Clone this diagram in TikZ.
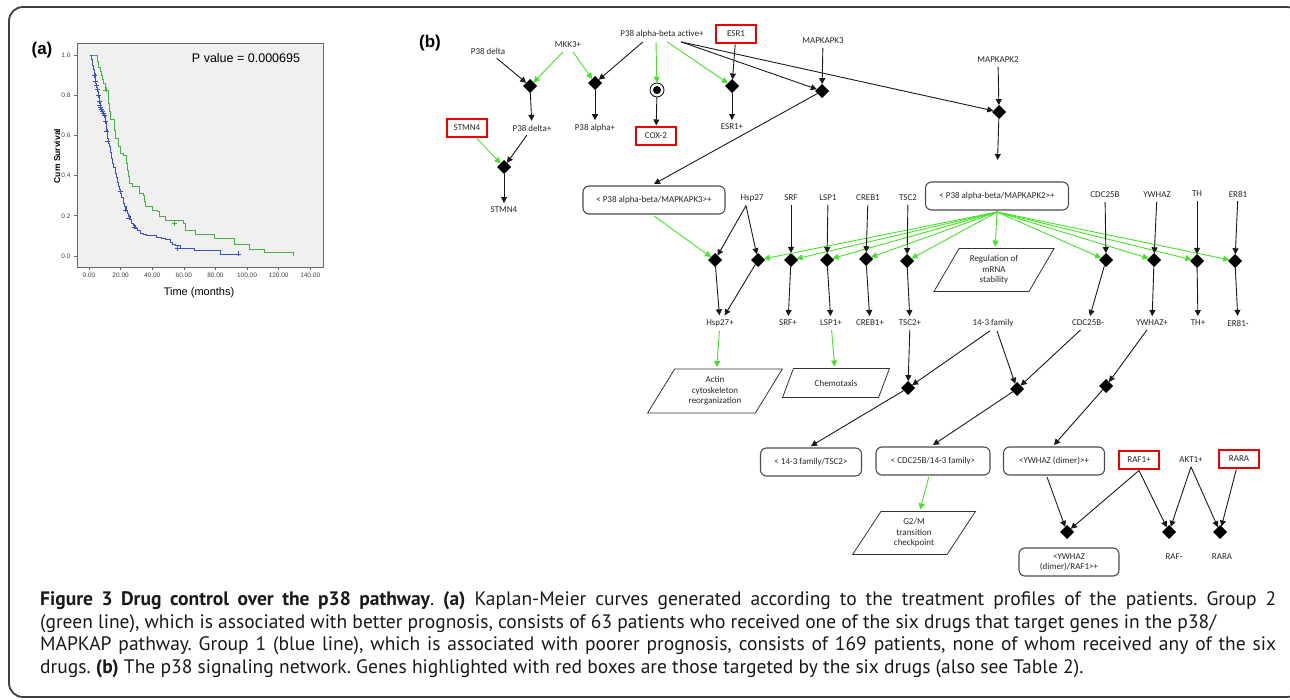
\documentclass[tikz,border=0pt]{standalone}
\usepackage{fontspec}
\setmainfont{PT Sans}
\newfontfamily\genfont{Carlito}
\newfontfamily\plotfont{Liberation Sans}
\usetikzlibrary{arrows.meta}
\usetikzlibrary{shapes.geometric}
\definecolor{pgreen}{RGB}{70,225,40}
\definecolor{kmgreen}{RGB}{70,175,70}
\definecolor{kmblue}{RGB}{60,80,195}
\definecolor{drugred}{RGB}{235,0,0}
\frenchspacing
\tikzset{
  gen/.style={font=\genfont\fontsize{9}{10.5}\selectfont, text=black!85, inner sep=2pt, outer sep=2pt},
  drug/.style={gen, draw=drugred, line width=2.4pt, minimum width=40pt, minimum height=18pt, outer sep=1.5pt},
  cplx/.style={gen, draw=black!70, line width=1.1pt, rounded corners=6pt, minimum height=28pt, align=center},
  proc/.style={gen, draw=black!80, line width=0.8pt, trapezium, trapezium left angle=60, trapezium right angle=120, trapezium stretches=true, align=center},
  knot/.style={diamond, fill=black, inner sep=0pt, minimum size=14pt, outer sep=0pt},
  pil/.style={-{Triangle[length=6pt,width=6pt]}, line width=0.9pt, black!90},
  gpil/.style={pil, pgreen},
  tick/.style={font=\plotfont\fontsize{6.5}{7}\selectfont, text=black!75},
}
\begin{document}
\begin{tikzpicture}[x=1pt,y=-1pt]
\useasboundingbox (0,0) rectangle (1290,700);
\draw [black!75, line width=1.8pt, rounded corners=14pt] (9,7) rectangle (1301,697);

% (a) Kaplan-Meier curves
\node [font=\plotfont\bfseries\fontsize{17}{20}\selectfont] (la) at (42,50) {(a)};
\draw [fill=black!6, draw=black!60, line width=0.8pt] (77,43) rectangle (323,267);
\node [font=\plotfont\fontsize{12.5}{14}\selectfont] (pval) at (246,58) {P value = 0.000695};
\node [font=\plotfont\fontsize{11}{13}\selectfont] (tlab) at (199,293) {Time (months)};
\node [font=\plotfont\bfseries\fontsize{8.5}{10}\selectfont, rotate=90] (ylab) at (57,156) {Cum Survival};
\begin{scope}[shift={(89,256)}, x=1.58pt, y=201pt]
  \foreach \v in {0.0,0.2,0.4,0.6,0.8,1.0} {
    \draw [black!60, line width=0.6pt] (-7.6,\v) -- ++(-3pt,0);
    \node [tick, anchor=east] at (-9.5,\v) {\v};
  }
  \foreach \t/\l in {0/0.00,20/20.00,40/40.00,60/60.00,80/80.00,100/100.00,120/120.00,140/140.00} {
    \draw [black!60, line width=0.6pt] (\t,-0.055) -- ++(0,-3pt);
    \node [tick, anchor=north] at (\t,-0.065) {\l};
  }
  \draw [kmgreen, line width=0.9pt] (0.6,1.0)
    \foreach \t/\s in {5.3/0.97,6.2/0.94,7.0/0.92,7.6/0.90,8.4/0.88,9.2/0.86,10.1/0.826,12.2/0.76,12.8/0.72,13.3/0.677,15.8/0.627,16.7/0.585,18.8/0.544,19.6/0.511,21.7/0.502,23.4/0.494,23.8/0.46,24.2/0.428,25.1/0.395,25.9/0.362,27.6/0.345,31.9/0.312,34.4/0.303,35.0/0.27,35.7/0.245,40.3/0.229,43.2/0.221,44.5/0.196,48.7/0.179,59.7/0.163,60.8/0.129,67.1/0.109,79.1/0.088,91.8/0.055,101.5/0.033,110.8/0.018,129.3/0.0} { -| (\t,\s) };
  \draw [kmblue, line width=0.9pt] (0.6,1.0)
    \foreach \t/\s in {1.5/0.98,2.2/0.95,2.7/0.93,3.3/0.91,3.8/0.89,4.3/0.86,4.9/0.84,5.4/0.82,5.9/0.80,6.4/0.77,7.0/0.75,7.5/0.735,8.0/0.726,8.8/0.71,9.5/0.70,10.2/0.67,10.8/0.65,11.2/0.62,11.6/0.585,12.3/0.56,12.9/0.544,13.6/0.515,14.3/0.486,15.0/0.46,15.7/0.44,16.5/0.411,17.2/0.39,17.9/0.365,18.6/0.345,19.3/0.33,20.0/0.312,20.8/0.29,21.7/0.262,22.5/0.245,23.4/0.229,24.1/0.21,24.9/0.196,26.0/0.18,27.0/0.163,28.0/0.15,29.1/0.138,30.7/0.125,32.3/0.113,34.5/0.105,36.5/0.10,42.8/0.093,46.0/0.087,48.1/0.08,51.3/0.068,53.0/0.058,54.4/0.05,57.6/0.038,66.5/0.027,83.3/0.01} { -| (\t,\s) } -- (94.5,0.01);
  \foreach \t/\s in {3.5/0.90,4.0/0.87,4.6/0.85,5.1/0.83,6.0/0.80,6.5/0.77,6.9/0.75,7.4/0.74,7.8/0.73,8.3/0.72,8.9/0.71,9.6/0.70,10.3/0.67,11.3/0.62,12.0/0.57,19.8/0.32,23.0/0.229,25.3/0.19,28.5/0.145,56.0/0.038,94.5/0.01}
    \draw [kmblue, line width=0.6pt] (\t,\s) +(-2.5pt,0) -- +(2.5pt,0) +(0,-2.5pt) -- +(0,2.5pt);
  \foreach \t/\s in {10.7/0.826,54.0/0.163}
    \draw [kmgreen, line width=0.6pt] (\t,\s) +(-2.5pt,0) -- +(2.5pt,0) +(0,-2.5pt) -- +(0,2.5pt);
\end{scope}

% (b) p38 network
\node [font=\plotfont\bfseries\fontsize{17}{20}\selectfont] (lb) at (430,43) {(b)};
\node [gen] (p38d) at (488,51) {P38 delta};
\node [gen] (mkk) at (568,45) {MKK3+};
\node [gen] (p38act) at (662,34) {P38 alpha-beta active+};
\node [drug] (esr) at (736,34) {ESR1};
\node [gen] (mk3) at (823,41) {MAPKAPK3};
\node [gen] (mk2) at (998,60) {MAPKAPK2};
\node [knot] (k1) at (530,86) {};
\node [knot] (k2) at (595,83) {};
\node [circle, draw, line width=0.8pt, minimum size=14pt, inner sep=0pt,
       path picture={\fill (path picture bounding box.center) circle (4pt);}] (cox) at (657,90) {};
\node [knot] (k3) at (732,86) {};
\node [knot] (k4) at (822,91) {};
\node [knot] (kmk2) at (999,112) {};
\node [drug] (stmn) at (467,128) {STMN4};
\node [gen] (p38dp) at (532,128) {P38 delta+};
\node [gen] (p38ap) at (595,128) {P38 alpha+};
\node [drug] (cox2) at (656,136) {COX-2};
\node [gen] (esrp) at (732,127) {ESR1+};
\node [knot] (kst) at (504,167) {};
\node [gen] (stmnp) at (504,210) {STMN4};
\node [cplx, minimum width=142pt] (cx3) at (654,200) {< P38 alpha-beta/MAPKAPK3>+};
\node [cplx, minimum width=143pt] (cx2) at (997,196) {< P38 alpha-beta/MAPKAPK2>+};
\node [gen] (hsp) at (752,198) {Hsp27};
\node [gen] (srf) at (791,198) {SRF};
\node [gen] (lsp) at (828,198) {LSP1};
\node [gen] (creb) at (868,198) {CREB1};
\node [gen] (tsc) at (908,198) {TSC2};
\node [gen] (cdc) at (1105,195) {CDC25B};
\node [gen] (ywh) at (1157,195) {YWHAZ};
\node [gen] (th) at (1197,194) {TH};
\node [gen] (er) at (1238,194) {ER81};
\foreach \n/\x/\y in {kha/715/260,khb/758/260,ksrf/791/260,klsp/827/260,kcreb/866/259,ktsc/907/261,kcdc/1106/260,kywh/1154/260,kth/1197/261,ker/1235/261}
  \node [knot] (\n) at (\x,\y) {};
\node [proc, minimum width=121pt, minimum height=43pt] (reg) at (994,270) {Regulation of\\mRNA\\stability};
\node [gen] (hspp) at (720,323) {Hsp27+};
\node [gen] (srfp) at (788,323) {SRF+};
\node [gen] (lspp) at (831,323) {LSP1+};
\node [gen] (crebp) at (870,323) {CREB1+};
\node [gen] (tscp) at (910,323) {TSC2+};
\node [gen] (fam) at (993,323) {14-3 family};
\node [gen] (cdcm) at (1088,323) {CDC25B-};
\node [gen] (ywhp) at (1152,323) {YWHAZ+};
\node [gen] (thp) at (1198,323) {TH+};
\node [gen] (erm) at (1238,323) {ER81-};
\node [proc, minimum width=136pt, minimum height=44pt] (actin) at (715,391) {Actin\\cytoskeleton\\reorganization};
\node [proc, minimum width=107pt, minimum height=29pt] (chemo) at (836,383) {Chemotaxis};
\node [knot] (kt) at (908,388) {};
\node [knot] (kf) at (1017,389) {};
\node [knot] (ky) at (1106,386) {};
\node [cplx, minimum width=101pt] (ctsc) at (811,462) {< 14-3 family/TSC2>};
\node [cplx, minimum width=114pt] (ccdc) at (933,461) {< CDC25B/14-3 family>};
\node [cplx, minimum width=101pt] (cyd) at (1054,461) {<YWHAZ (dimer)>+};
\node [drug] (raf) at (1139,460) {RAF1+};
\node [gen] (akt) at (1191,460) {AKT1+};
\node [drug] (rara) at (1239,459) {RARA};
\node [proc, minimum width=123pt, minimum height=43pt] (g2m) at (914,533) {G2/M\\transition\\checkpoint};
\node [knot] (kyr) at (1067,532) {};
\node [knot] (kraf) at (1169,532) {};
\node [knot] (krara) at (1220,532) {};
\node [cplx, minimum width=100pt, inner sep=1pt] (cyr) at (1069,562) {<YWHAZ\\(dimer)/RAF1>+};
\node [gen] (rafm) at (1174,557) {RAF-};
\node [gen] (rarap) at (1222,557) {RARA};

% connectors
\draw [pil] (p38d) -- (k1);
\draw [gpil] ([xshift=-5pt]mkk.south) -- (k1);
\draw [gpil] ([xshift=5pt]mkk.south) -- (k2);
\draw [pil] ([xshift=-19pt]p38act.south) -- (k2);
\draw [gpil] ([xshift=-6pt]p38act.south) -- (cox);
\draw [gpil] ([xshift=5pt]p38act.south) -- (k3);
\draw [pil] (esr) -- (k3);
\draw [pil] ([xshift=19pt]p38act.south) -- (k4);
\draw [pil] ([xshift=19pt]p38act.south) -- (kmk2);
\draw [pil] (mk3) -- (k4);
\draw [pil] (mk2) -- (kmk2);
\draw [pil] (k1) -- (p38dp);
\draw [pil] (k2) -- (p38ap);
\draw [pil] (cox) -- (cox2);
\draw [pil] (k3) -- (esrp);
\draw [gpil] (stmn) -- (kst);
\draw [pil] (p38dp) -- (kst);
\draw [pil] (kst) -- (stmnp);
\draw [pil] (k4) -- (cx3.north);
\draw [pil, shorten >=20pt] (kmk2) -- (cx2.north);
\draw [gpil] (cx3.south) -- (kha);
\draw [pil] ([xshift=-6pt]hsp.south) -- (kha);
\draw [pil] ([xshift=-6pt]hsp.south) -- (khb);
\foreach \k in {khb,ksrf,klsp,kcreb,ktsc,reg,kcdc,kywh,kth,ker}
  \draw [gpil] (cx2.south) -- (\k);
\foreach \a/\b in {srf/ksrf,lsp/klsp,creb/kcreb,tsc/ktsc,cdc/kcdc,ywh/kywh,th/kth,er/ker,kha/hspp,khb/hspp,ksrf/srfp,klsp/lspp,kcreb/crebp,ktsc/tscp,kcdc/cdcm,kywh/ywhp,kth/thp,ker/erm,tscp/kt,cdcm/kf,ywhp/ky,rara/krara}
  \draw [pil] (\a) -- (\b);
\draw [gpil] (hspp) -- (actin);
\draw [gpil] (lspp) -- (chemo);
\draw [pil] ([xshift=-3pt]fam.south) -- (kt);
\draw [pil] ([xshift=4pt]fam.south) -- (kf);
\draw [pil] (kt) -- (ctsc.north);
\draw [pil] (kf) -- (ccdc.north);
\draw [pil] (ky) -- (cyd.north);
\draw [gpil] (ccdc) -- (g2m);
\draw [pil] ([xshift=-7pt]cyd.south) -- (kyr);
\draw [pil] (raf.south) -- (kyr);
\draw [pil] (raf.south) -- (kraf);
\draw [pil] (akt.south) -- (kraf);
\draw [pil] (akt.south) -- (krara);

% caption
\begin{scope}[every node/.style={anchor=west, inner sep=0pt, text=black!90, font=\fontsize{19.5}{22}\selectfont}]
\node (cap1) at (40,601) {\makebox[1236pt][s]{\textbf{Figure 3 Drug control over the p38 pathway}. \textbf{(a)} Kaplan-Meier curves generated according to the treatment profiles of the patients. Group 2}};
\node (cap2) at (40,623.5) {(green line), which is associated with better prognosis, consists of 63 patients who received one of the six drugs that target genes in the p38/};
\node (cap3) at (40,646) {\makebox[1236pt][s]{MAPKAP pathway. Group 1 (blue line), which is associated with poorer prognosis, consists of 169 patients, none of whom received any of the six}};
\node (cap4) at (40,668.5) {drugs. \textbf{(b)} The p38 signaling network. Genes highlighted with red boxes are those targeted by the six drugs (also see Table 2).};
\end{scope}
\end{tikzpicture}
\end{document}
